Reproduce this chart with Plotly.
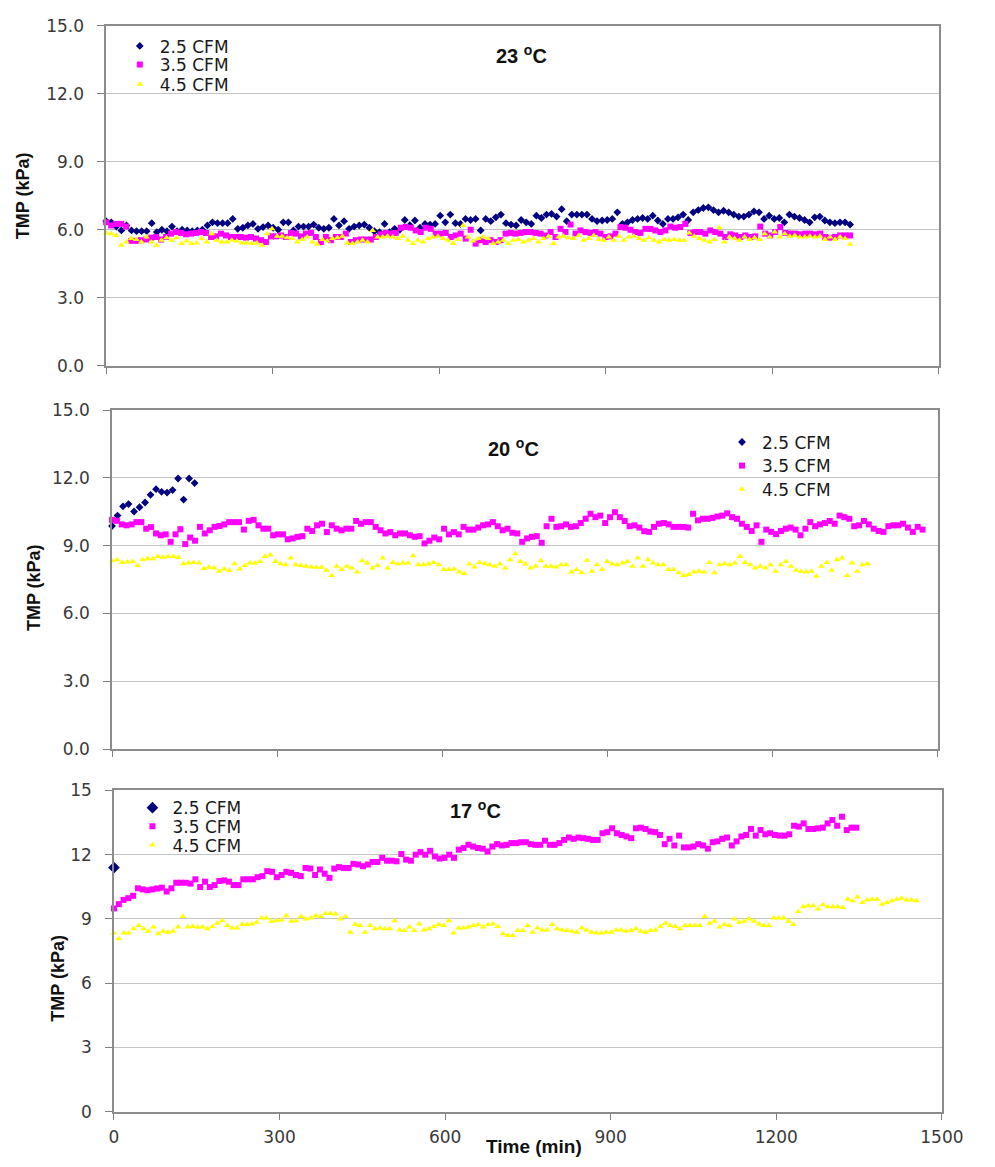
import numpy as np
import plotly.graph_objects as go

# ---------------------------------------------------------------------------
# TMP readings (kPa), sampled at even intervals from t = 0 to the last reading
# ---------------------------------------------------------------------------
series_names = ["2.5 CFM", "3.5 CFM", "4.5 CFM"]

# 23 oC
tmp23_25 = [6.38, 6.33, 6.14, 5.97, 6.19, 5.97, 5.94, 5.94, 5.94, 6.29, 5.9, 6.0, 5.94, 6.14, 5.94,
            6.0, 5.97, 5.94, 5.97, 6.0, 6.19, 6.33, 6.29, 6.29, 6.29, 6.48, 6.04, 6.09, 6.19, 6.26,
            6.04, 6.12, 6.19, 6.09, 6.0, 6.33, 6.33, 5.97, 6.14, 6.14, 6.14, 6.23, 6.09, 6.04, 6.09,
            6.48, 6.19, 6.38, 6.04, 6.14, 6.19, 6.23, 6.09, 5.94, 5.9, 6.26, 5.9, 6.04, 6.0, 6.43,
            6.2, 6.41, 6.09, 6.26, 6.23, 6.26, 6.62, 6.33, 6.67, 6.29, 6.26, 6.48, 6.43, 6.48, 5.97,
            6.48, 6.38, 6.55, 6.67, 6.29, 6.23, 6.19, 6.43, 6.33, 6.26, 6.62, 6.52, 6.67, 6.7, 6.58,
            6.91, 6.38, 6.67, 6.67, 6.67, 6.67, 6.48, 6.38, 6.41, 6.43, 6.48, 6.77, 6.26, 6.33, 6.43,
            6.48, 6.52, 6.48, 6.62, 6.41, 6.26, 6.48, 6.48, 6.55, 6.67, 6.43, 6.77, 6.87, 6.96, 6.99,
            6.87, 6.77, 6.84, 6.77, 6.67, 6.58, 6.58, 6.67, 6.81, 6.77, 6.48, 6.62, 6.48, 6.52, 6.33,
            6.67, 6.58, 6.52, 6.43, 6.33, 6.55, 6.58, 6.41, 6.33, 6.29, 6.33, 6.33, 6.23]
tmp23_35 = [6.33, 6.19, 6.26, 6.26, 6.14, 5.51, 5.51, 5.54, 5.57, 5.65, 5.68, 5.57, 5.68, 5.83, 5.9,
            5.86, 5.8, 5.83, 5.86, 5.9, 5.86, 5.68, 5.71, 5.83, 5.75, 5.68, 5.68, 5.68, 5.65, 5.68,
            5.61, 5.54, 5.46, 5.71, 5.71, 5.75, 5.68, 5.86, 5.83, 5.71, 5.83, 5.86, 5.68, 5.46, 5.68,
            5.54, 5.68, 5.68, 5.83, 5.46, 5.54, 5.57, 5.57, 5.57, 5.68, 5.8, 5.86, 5.83, 5.86, 6.09,
            6.12, 6.09, 5.97, 5.9, 6.09, 6.04, 5.83, 5.83, 5.86, 5.68, 5.75, 5.83, 5.61, 6.0, 5.39,
            5.54, 5.46, 5.54, 5.46, 5.54, 5.83, 5.86, 5.83, 5.86, 5.9, 5.9, 5.86, 5.83, 5.75, 5.9,
            5.68, 6.04, 5.9, 6.23, 5.83, 5.97, 5.9, 5.86, 5.9, 5.83, 5.68, 5.71, 5.83, 6.12, 6.09,
            6.0, 5.9, 5.86, 6.04, 6.04, 5.97, 5.9, 5.97, 6.14, 6.09, 6.12, 6.26, 5.86, 5.9, 5.9,
            5.83, 5.97, 5.9, 5.83, 5.68, 5.8, 5.75, 5.68, 5.75, 5.68, 5.71, 6.14, 5.83, 5.75, 5.9,
            6.12, 5.86, 5.83, 5.83, 5.8, 5.83, 5.83, 5.8, 5.83, 5.68, 5.65, 5.68, 5.75, 5.75, 5.75]
tmp23_45 = [5.86, 5.83, 5.75, 5.32, 5.46, 5.61, 5.57, 5.46, 5.68, 5.46, 5.32, 5.54, 5.65, 5.54, 5.65,
            5.39, 5.51, 5.39, 5.42, 5.61, 5.46, 5.83, 5.54, 5.46, 5.46, 5.54, 5.51, 5.42, 5.42, 5.39,
            5.42, 5.32, 5.83, 6.04, 5.71, 5.71, 5.65, 5.61, 5.46, 5.57, 5.68, 5.46, 5.36, 5.57, 5.51,
            5.61, 5.65, 5.71, 5.42, 5.39, 5.46, 5.54, 5.46, 5.97, 5.68, 5.68, 5.71, 5.68, 5.61, 5.71,
            5.54, 5.39, 5.54, 5.46, 5.61, 5.68, 5.71, 5.61, 5.54, 5.39, 5.57, 6.19, 5.68, 5.51, 5.61,
            5.68, 5.61, 5.39, 5.46, 5.54, 5.39, 5.54, 5.57, 5.46, 5.54, 5.61, 5.46, 5.61, 5.71, 5.39,
            5.68, 5.71, 5.65, 5.61, 5.75, 5.54, 5.61, 5.75, 5.57, 5.54, 5.68, 5.54, 5.71, 5.54, 5.68,
            5.71, 5.61, 5.54, 5.65, 5.54, 5.46, 5.57, 5.54, 5.57, 5.54, 5.54, 5.86, 5.71, 5.61, 5.54,
            5.46, 5.57, 6.09, 5.46, 5.68, 5.61, 5.54, 5.68, 5.57, 5.65, 5.57, 5.83, 5.68, 5.9, 5.68,
            5.83, 5.71, 5.75, 5.68, 5.68, 5.71, 5.68, 5.71, 5.57, 5.68, 5.57, 5.68, 5.61, 5.36]
end23 = [1340, 1340, 1340]

# 20 oC
tmp20_25 = [9.87, 10.33, 10.74, 10.84, 10.51, 10.7, 10.91, 11.25, 11.5, 11.38, 11.35, 11.46, 11.97,
            11.04, 11.97, 11.77]
tmp20_35 = [10.14, 10.1, 9.94, 9.9, 9.94, 10.04, 10.04, 9.75, 9.82, 9.54, 9.46, 9.5, 9.17, 9.5, 9.73,
            9.07, 9.36, 9.22, 9.83, 9.54, 9.68, 9.83, 9.87, 9.94, 10.04, 10.04, 10.04, 9.71, 10.1,
            10.14, 9.9, 9.75, 9.75, 9.46, 9.5, 9.5, 9.28, 9.32, 9.39, 9.42, 9.75, 9.65, 9.9, 9.97,
            9.6, 9.9, 9.75, 9.68, 9.75, 9.75, 10.09, 9.97, 10.04, 10.04, 9.83, 9.68, 9.54, 9.6, 9.46,
            9.54, 9.54, 9.46, 9.39, 9.42, 9.1, 9.22, 9.36, 9.28, 9.75, 9.5, 9.6, 9.5, 9.83, 9.71,
            9.71, 9.8, 9.9, 9.94, 10.04, 9.86, 9.68, 9.75, 9.57, 9.54, 9.17, 9.32, 9.39, 9.42, 9.13,
            9.86, 10.19, 9.83, 9.86, 9.94, 9.83, 9.86, 10.0, 10.19, 10.41, 10.26, 10.33, 10.0, 10.26,
            10.48, 10.26, 10.09, 9.86, 9.9, 9.8, 9.64, 9.61, 9.83, 9.97, 10.0, 9.94, 9.83, 9.83, 9.83,
            9.8, 10.41, 10.12, 10.19, 10.19, 10.23, 10.29, 10.33, 10.43, 10.26, 10.19, 9.97, 9.83,
            9.65, 9.9, 9.17, 9.71, 9.61, 9.51, 9.65, 9.75, 9.8, 9.71, 9.46, 9.75, 10.04, 9.86, 9.94,
            10.0, 10.09, 9.97, 10.33, 10.26, 10.19, 9.86, 9.9, 10.09, 9.94, 9.75, 9.65, 9.61, 9.86,
            9.9, 9.9, 9.97, 9.8, 9.61, 9.83, 9.71]
tmp20_45 = [8.33, 8.38, 8.26, 8.28, 8.3, 8.12, 8.38, 8.42, 8.42, 8.52, 8.49, 8.52, 8.52, 8.48, 8.2,
            8.23, 8.26, 8.23, 7.99, 8.04, 8.01, 7.87, 7.97, 7.9, 8.2, 7.97, 8.12, 8.23, 8.23, 8.3,
            8.52, 8.59, 8.3, 8.2, 8.16, 8.45, 8.16, 8.12, 8.09, 8.06, 8.04, 8.04, 7.91, 7.68, 8.09,
            7.94, 8.09, 8.01, 7.83, 8.33, 8.23, 8.01, 8.12, 8.45, 8.01, 8.26, 8.19, 8.23, 8.23, 8.55,
            8.16, 8.16, 8.19, 8.26, 8.16, 7.94, 7.94, 7.97, 7.83, 7.77, 8.19, 8.06, 8.26, 8.2, 8.16,
            8.09, 8.19, 8.01, 8.38, 8.64, 8.3, 8.19, 8.01, 8.09, 8.33, 8.09, 8.09, 8.06, 8.16, 8.16,
            7.84, 7.94, 7.8, 8.35, 7.87, 8.16, 7.94, 8.3, 8.19, 8.16, 8.23, 8.3, 8.09, 8.45, 8.09,
            8.38, 8.23, 8.16, 8.16, 7.94, 7.94, 7.8, 7.68, 7.72, 7.83, 7.87, 7.83, 8.26, 7.8, 8.16,
            8.2, 8.16, 8.23, 8.52, 8.26, 8.16, 8.01, 8.09, 8.01, 8.16, 7.87, 8.16, 8.3, 8.09, 7.91,
            7.87, 7.83, 7.87, 7.65, 8.09, 8.26, 7.91, 8.38, 8.45, 7.68, 8.23, 7.87, 8.16, 8.2]
end20 = [150, 1472, 1372]

# 17 oC
tmp17_25 = [11.4]
tmp17_35 = [9.49, 9.69, 9.89, 9.97, 10.08, 10.43, 10.38, 10.34, 10.38, 10.42, 10.46, 10.28, 10.43,
            10.69, 10.69, 10.69, 10.65, 10.85, 10.49, 10.74, 10.49, 10.58, 10.77, 10.8, 10.74, 10.58,
            10.58, 10.85, 10.85, 10.85, 10.95, 11.0, 11.23, 11.2, 10.95, 11.05, 11.2, 11.15, 11.05,
            11.0, 11.38, 11.35, 11.05, 11.31, 11.11, 10.92, 11.35, 11.42, 11.38, 11.38, 11.57, 11.54,
            11.46, 11.54, 11.66, 11.66, 11.85, 11.72, 11.72, 11.69, 12.03, 11.77, 11.72, 12.0, 12.12,
            12.0, 12.18, 11.92, 11.82, 11.85, 12.0, 11.85, 12.23, 12.31, 12.46, 12.38, 12.31, 12.28,
            12.15, 12.38, 12.49, 12.43, 12.46, 12.54, 12.54, 12.58, 12.58, 12.49, 12.46, 12.46, 12.65,
            12.46, 12.46, 12.54, 12.69, 12.8, 12.74, 12.8, 12.77, 12.74, 12.69, 12.69, 13.0, 13.05,
            13.23, 13.0, 12.92, 12.85, 12.77, 13.23, 13.26, 13.2, 13.08, 13.05, 12.92, 12.49, 12.74,
            12.43, 12.89, 12.34, 12.34, 12.38, 12.49, 12.43, 12.28, 12.58, 12.62, 12.74, 12.8, 12.43,
            12.62, 12.85, 12.92, 13.2, 12.89, 13.15, 12.95, 13.0, 12.92, 12.89, 12.89, 12.95, 13.35,
            13.31, 13.46, 13.2, 13.2, 13.23, 13.26, 13.46, 13.62, 13.35, 13.77, 13.15, 13.26, 13.26]
tmp17_45 = [8.34, 8.08, 8.34, 8.34, 8.54, 8.69, 8.54, 8.43, 8.62, 8.31, 8.43, 8.38, 8.43, 8.62, 9.11,
            8.62, 8.65, 8.62, 8.62, 8.54, 8.65, 8.8, 8.92, 8.69, 8.58, 8.58, 8.74, 8.74, 8.77, 8.85,
            9.05, 9.05, 8.89, 8.92, 8.95, 9.15, 8.89, 8.92, 9.11, 9.0, 9.05, 9.15, 9.11, 9.26, 9.26,
            9.23, 9.0, 9.11, 8.38, 8.74, 8.69, 8.38, 8.69, 8.54, 8.58, 8.54, 8.54, 8.92, 8.49, 8.46,
            8.62, 8.46, 8.77, 8.49, 8.54, 8.65, 8.74, 8.69, 8.92, 8.34, 8.58, 8.58, 8.62, 8.69, 8.74,
            8.62, 8.74, 8.77, 8.65, 8.31, 8.23, 8.23, 8.46, 8.46, 8.69, 8.38, 8.58, 8.49, 8.49, 8.74,
            8.54, 8.49, 8.46, 8.43, 8.38, 8.58, 8.49, 8.38, 8.34, 8.34, 8.38, 8.38, 8.49, 8.49, 8.43,
            8.46, 8.54, 8.43, 8.38, 8.46, 8.49, 8.65, 8.8, 8.69, 8.65, 8.54, 8.69, 8.69, 8.69, 8.69,
            9.11, 8.8, 8.89, 8.62, 8.74, 8.69, 9.0, 8.85, 8.89, 9.0, 8.89, 8.77, 8.69, 8.69, 9.05,
            9.05, 9.05, 8.89, 8.74, 9.35, 9.57, 9.62, 9.62, 9.46, 9.66, 9.57, 9.57, 9.57, 9.54, 9.92,
            9.85, 10.03, 9.77, 9.88, 9.92, 9.92, 9.69, 9.77, 9.85, 9.92, 9.97, 9.88, 9.88, 9.85]
end17 = [0, 1345, 1454]

x_ticks = [0, 300, 600, 900, 1200, 1500]
y_ticks = [0, 3, 6, 9, 12, 15]

# ---------------------------------------------------------------------------
# Styling
# ---------------------------------------------------------------------------
W, H = 995, 1167
colors = ["#000080", "#ff00ff", "#ffff00"]
symbols = ["diamond", "square", "triangle-up"]
sizes = [6, 6, 6]
TICK_FONT = dict(family="DejaVu Sans, Arial", size=17, color="#3a3a3a")
LEG_FONT = dict(family="DejaVu Sans, Arial", size=17, color="#1a1a1a")
TITLE_FONT = dict(family="Liberation Sans, Arial", size=20, color="#111111")
AXT_FONT = dict(family="Liberation Sans Narrow, Arial Narrow, Liberation Sans", size=18,
                color="#111111")


def fx(p):
    return p / W


def fy(p):
    return 1 - p / H


panels = [
    dict(title="23 <sup>o</sup>C", data=[tmp23_25, tmp23_35, tmp23_45], ends=end23,
         box=(104, 960, 16, 362), fmt=".1f", labels_x=False,
         title_xy=(531, 45), ytitle_xy=(18, 189),
         legend_xy=(140, [37, 56, 76]), big_first=False),
    dict(title="20 <sup>o</sup>C", data=[tmp20_25, tmp20_35, tmp20_45], ends=end20,
         box=(110, 959, 407, 752), fmt=".1f", labels_x=False,
         title_xy=(523, 445), ytitle_xy=(30, 588),
         legend_xy=(759, [440, 464, 488]), big_first=False),
    dict(title="17 <sup>o</sup>C", data=[tmp17_25, tmp17_35, tmp17_45], ends=end17,
         box=(112, 963, 794, 1121), fmt="d", labels_x=True,
         title_xy=(484, 813), ytitle_xy=(55, 985),
         legend_xy=(153, [812, 831, 850]), big_first=True),
]

fig = go.Figure()
layout = dict(
    width=W, height=H, margin=dict(l=0, r=0, t=0, b=0),
    paper_bgcolor="white", plot_bgcolor="white", showlegend=True,
)
annotations = []
legend_no = 0

for i, p in enumerate(panels):
    ax = "" if i == 0 else str(i + 1)
    x0, x1, y0, y1 = p["box"]
    for k, vals in enumerate(p["data"]):
        legend_no += 1
        lg = "legend" if legend_no == 1 else f"legend{legend_no}"
        t = np.linspace(0, p["ends"][k], len(vals))
        msize = 9 if (p["big_first"] and k == 0) else sizes[k]
        fig.add_trace(go.Scatter(
            x=t, y=vals, mode="markers", name=series_names[k],
            xaxis="x" + ax, yaxis="y" + ax, legend=lg,
            marker=dict(symbol=symbols[k], size=msize, color=colors[k],
                        line=dict(width=0)),
            cliponaxis=False,
        ))
        sx, sy_list = p["legend_xy"]
        layout[lg] = dict(
            x=fx(sx - 22), y=fy(sy_list[k]), xanchor="left", yanchor="middle",
            bgcolor="rgba(0,0,0,0)", borderwidth=0, font=LEG_FONT,
            itemwidth=30, tracegroupgap=0,
        )

    layout["xaxis" + ax] = dict(
        domain=[fx(x0), fx(x1)], anchor="y" + ax, range=[0, 1500],
        tickvals=x_ticks, showticklabels=p["labels_x"], tickfont=TICK_FONT,
        ticks="outside", ticklen=6, tickcolor="#808080", tickwidth=1,
        ticklabelstandoff=3,
        showline=True, linecolor="#8c8c8c", linewidth=1.5, mirror=True,
        showgrid=False, zeroline=False,
    )
    layout["yaxis" + ax] = dict(
        domain=[fy(y1), fy(y0)], anchor="x" + ax, range=[0, 15],
        tickvals=y_ticks, tickformat=p["fmt"], tickfont=TICK_FONT,
        ticks="outside", ticklen=7, tickcolor="#808080", tickwidth=1,
        ticklabelstandoff=10,
        showline=True, linecolor="#8c8c8c", linewidth=1.5, mirror=True,
        showgrid=True, gridcolor="#c4c4c4", gridwidth=1.2, zeroline=False,
    )
    tx, ty = p["title_xy"]
    annotations.append(dict(
        text="<b>" + p["title"] + "</b>", x=fx(tx), y=fy(ty), xref="paper", yref="paper",
        xanchor="center", yanchor="middle", showarrow=False, font=TITLE_FONT,
    ))
    yx, yy = p["ytitle_xy"]
    annotations.append(dict(
        text="<b>TMP (kPa)</b>", x=fx(yx), y=fy(yy), xref="paper", yref="paper",
        xanchor="center", yanchor="middle", textangle=-90, showarrow=False, font=AXT_FONT,
    ))

annotations.append(dict(
    text="<b>Time (min)</b>", x=fx(544), y=fy(1156), xref="paper", yref="paper",
    xanchor="center", yanchor="middle", showarrow=False,
    font=dict(family="Liberation Sans Narrow, Arial Narrow, Liberation Sans", size=19,
              color="#111111"),
))

layout["annotations"] = annotations
fig.update_layout(**layout)
fig.write_html("out.html")
